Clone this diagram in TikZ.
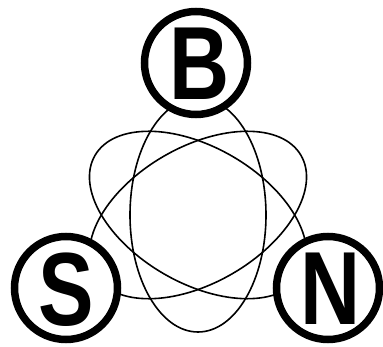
\documentclass[tikz,border=0pt]{standalone}
\usepackage{fontspec}
\setmainfont{Liberation Sans}
\begin{document}
\begin{tikzpicture}[x=1pt,y=-1pt,
  orbit/.style={line width=1.6pt},
  ring/.style={circle,draw,line width=7.5pt,fill=white,minimum size=103pt,inner sep=0pt},
  letter/.style={inner sep=0pt,font=\fontsize{104}{104}\selectfont\bfseries}]
\useasboundingbox (0,0) rectangle (383,347);
\coordinate (c) at (198,215);
\draw[orbit] (c) ellipse [x radius=68, y radius=117];
\draw[orbit, rotate around={60:(c)}] (c) ellipse [x radius=68, y radius=119];
\draw[orbit, rotate around={-60:(c)}] (c) ellipse [x radius=68, y radius=119];
\node[ring] (B) at (196,63) {};
\node[ring] (S) at (66,288) {};
\node[ring] (N) at (328,288) {};
\node[letter] (Bt) at (200,64) {\scalebox{0.8}[1]{B}};
\node[letter] (St) at (66,290) {\scalebox{0.8}[1]{S}};
\node[letter] (Nt) at (331,289) {\scalebox{0.8}[1]{N}};
\end{tikzpicture}
\end{document}
